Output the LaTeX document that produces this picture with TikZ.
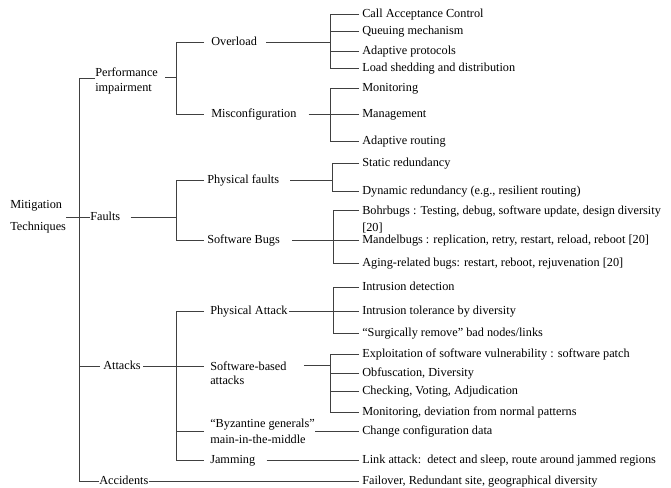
\documentclass[tikz,border=0pt]{standalone}
\usepackage{fontspec}
\setmainfont{Liberation Serif}
\begin{document}
\begin{tikzpicture}[x=0.75pt,y=-0.75pt,
  t/.style={inner sep=0pt,anchor=west,font=\fontsize{9.2pt}{11pt}\selectfont,text height=6.6pt,text depth=2pt},
  m/.style={inner sep=0pt,anchor=west,align=left},
  ln/.style={draw=black!75,line width=0.75pt}]
\useasboundingbox (0,0) rectangle (671,487);
\fill[white] (0,0) rectangle (671,487);
\coordinate (tk) at (79,0);
\coordinate (j2) at (176,0);
\coordinate (j3) at (330,0);
\coordinate (j3b) at (332,0);
\coordinate (j3c) at (333,0);
% main nodes
\node[m,font=\fontsize{9.2pt}{16.5pt}\selectfont] (root) at (10,217) {Mitigation\\Techniques};
\node[m,font=\fontsize{9.2pt}{11.25pt}\selectfont] (perf) at (95,80.5) {Performance\\impairment};
\node[t] (faults) at (90,217) {Faults};
\node[t] (att) at (103,366) {Attacks};
\node[t] (acc) at (99,481) {Accidents};
\node[t] (ovl) at (211,42) {Overload};
\node[t] (misc) at (211,114) {Misconfiguration};
\node[t] (pf) at (207,180) {Physical faults};
\node[t] (sb) at (207,240) {Software Bugs};
\node[t] (pa) at (210,311.5) {Physical Attack};
\node[m,font=\fontsize{9.2pt}{10.5pt}\selectfont] (swb) at (210,373) {Software-based\\attacks};
\node[m,font=\fontsize{9.2pt}{12pt}\selectfont] (byz) at (210,431) {“Byzantine generals”\\main-in-the-middle};
\node[t] (jam) at (210,460) {Jamming};
% leaves
\node[t] (cac) at (362,14) {Call Acceptance Control};
\node[t] (qm) at (362,31) {Queuing mechanism};
\node[t] (ap) at (362,51) {Adaptive protocols};
\node[t] (lsd) at (362,68) {Load shedding and distribution};
\node[t] (mon) at (362,88) {Monitoring};
\node[t] (mgt) at (362,114) {Management};
\node[t] (ar) at (362,141) {Adaptive routing};
\node[t] (sr) at (362,163) {Static redundancy};
\node[t] (dr) at (362,191) {Dynamic redundancy (e.g., resilient routing)};
\node[m,font=\fontsize{9.2pt}{12.75pt}\selectfont] (bohr) at (362,219.5) {Bohrbugs : Testing, debug, software update, design diversity\\{[20]}};
\node[t] (mand) at (362,240) {Mandelbugs : replication, retry, restart, reload, reboot [20]};
\node[t] (aging) at (362,263) {Aging-related bugs: restart, reboot, rejuvenation [20]};
\node[t] (id) at (362,287) {Intrusion detection};
\node[t] (it) at (362,311.5) {Intrusion tolerance by diversity};
\node[t] (sr2) at (362,333) {“Surgically remove” bad nodes/links};
\node[t] (ex) at (362,354) {Exploitation of software vulnerability : software patch};
\node[t] (ob) at (362,373) {Obfuscation, Diversity};
\node[t] (ch) at (362,391) {Checking, Voting, Adjudication};
\node[t] (mo) at (362,412) {Monitoring, deviation from normal patterns};
\node[t] (ccd) at (362,431) {Change configuration data};
\node[t] (la) at (362,460) {Link attack:\ \ detect and sleep, route around jammed regions};
\node[t] (fo) at (362,481) {Failover, Redundant site, geographical diversity};
% trunk
\draw[ln] ([yshift=1.2pt]perf.west) coordinate (p1) -- (p1 -| tk) -- (acc.west -| tk) -- (acc.west);
\draw[ln] ([xshift=-2.25pt]att.west) -- (att.west -| tk);
\draw[ln] (root.east) -- (faults.west);
% performance impairment
\draw[ln] ([shift={(5.25pt,2.6pt)}]perf.east) coordinate (p0) -- (p0 -| j2);
\draw[ln] ([xshift=-5.25pt]ovl.west) -- (ovl.west -| j2) -- (misc.west -| j2) -- ([xshift=-5.25pt]misc.west);
\draw[ln] ([xshift=6.75pt]ovl.east) -- (ovl.east -| j3);
\draw[ln] ([xshift=-2.25pt]cac.west) -- (cac.west -| j3) -- (lsd.west -| j3) -- ([xshift=-2.25pt]lsd.west);
\draw[ln] ([xshift=-2.25pt]qm.west) -- (qm.west -| j3);
\draw[ln] ([xshift=-2.25pt]ap.west) -- (ap.west -| j3);
\draw[ln] ([xshift=9pt]misc.east) -- (misc.east -| j3);
\draw[ln] ([xshift=-2.25pt]mon.west) -- (mon.west -| j3) -- (ar.west -| j3) -- ([xshift=-2.25pt]ar.west);
\draw[ln] ([xshift=-2.25pt]mgt.west) -- (mgt.west -| j3);
% faults
\draw[ln] ([xshift=7.5pt]faults.east) -- (faults.east -| j2);
\draw[ln] ([xshift=-2.25pt]pf.west) -- (pf.west -| j2) -- (sb.west -| j2) -- ([xshift=-2.25pt]sb.west);
\draw[ln] ([xshift=8.25pt]pf.east) -- (pf.east -| j3b);
\draw[ln] ([xshift=-2.25pt]sr.west) -- (sr.west -| j3b) -- (dr.west -| j3b) -- ([xshift=-2.25pt]dr.west);
\draw[ln] ([xshift=9pt]sb.east) -- (sb.east -| j3c);
\coordinate (b1) at ([shift={(-2.25pt,-3.4pt)}]bohr.north west);
\draw[ln] (b1) -- (b1 -| j3c) -- (aging.west -| j3c) -- ([xshift=-2.25pt]aging.west);
\draw[ln] ([xshift=-2.25pt]mand.west) -- (mand.west -| j3c);
% attacks
\coordinate (s1) at ([shift={(-4.5pt,-3.4pt)}]swb.north west);
\draw[ln] ([xshift=1.5pt]att.east) coordinate (a0) -- (a0 -| s1);
\draw[ln] ([xshift=-4.5pt]pa.west) -- (pa.west -| j2) -- (jam.west -| j2) -- ([xshift=-4.5pt]jam.west);
\draw[ln] ([xshift=-4.5pt]byz.west) -- (byz.west -| j2);
\draw[ln] ([xshift=0.75pt]pa.east) -- ([xshift=-2.25pt]it.west);
\draw[ln] ([xshift=-2.25pt]id.west) -- (id.west -| j3c) -- (sr2.west -| j3c) -- ([xshift=-2.25pt]sr2.west);
\coordinate (s2) at ([shift={(12.75pt,-3.4pt)}]swb.north east);
\draw[ln] (s2) -- (s2 -| j3);
\draw[ln] ([xshift=-2.25pt]ex.west) -- (ex.west -| j3) -- (mo.west -| j3) -- ([xshift=-2.25pt]mo.west);
\draw[ln] ([xshift=-2.25pt]ob.west) -- (ob.west -| j3);
\draw[ln] ([xshift=-2.25pt]ch.west) -- (ch.west -| j3);
\draw[ln] (byz.east) -- ([xshift=-2.25pt]ccd.west);
\draw[ln] ([xshift=8.25pt]jam.east) -- ([xshift=-2.25pt]la.west);
\draw[ln] (acc.east) -- ([xshift=-2.25pt]fo.west);
\end{tikzpicture}
\end{document}
